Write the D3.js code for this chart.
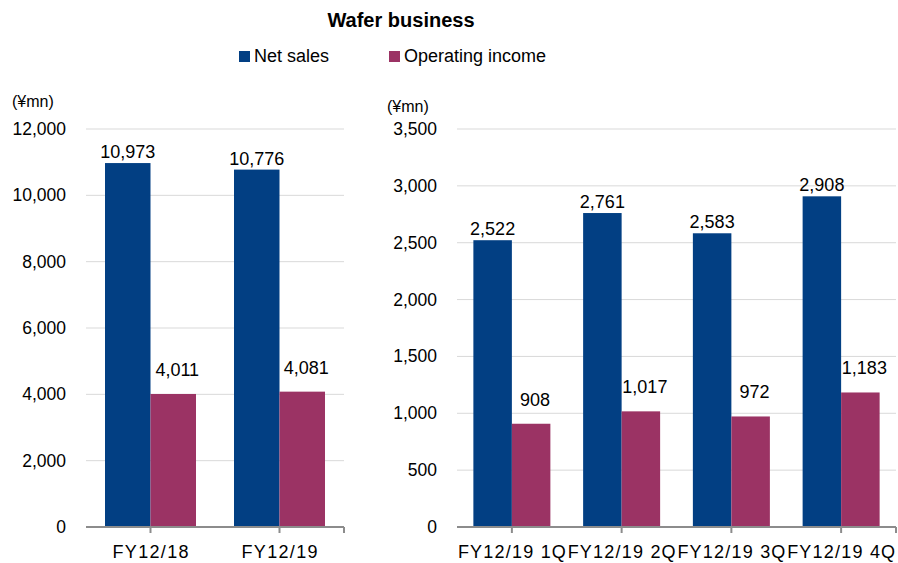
<!DOCTYPE html>
<html>
<head>
<meta charset="utf-8">
<script src="https://cdn.jsdelivr.net/npm/d3@7"></script>
<style>
  body { margin: 0; background: #fff; }
  text { font-family: "Liberation Sans", Arial, sans-serif; fill: #000; }
</style>
</head>
<body>
<div id="wrapper"></div>
<script>
// annual figures (left panel)
var annualCats = ['FY12/18', 'FY12/19'];
var annualSales = [10973, 10776];
var annualIncome = [4011, 4081];
var annualTicks = [0, 2000, 4000, 6000, 8000, 10000, 12000];

// quarterly figures (right panel)
var quarterCats = ['FY12/19 1Q', 'FY12/19 2Q', 'FY12/19 3Q', 'FY12/19 4Q'];
var quarterSales = [2522, 2761, 2583, 2908];
var quarterIncome = [908, 1017, 972, 1183];
var quarterTicks = [0, 500, 1000, 1500, 2000, 2500, 3000, 3500];

var seriesNames = ['Net sales', 'Operating income'];
var colors = ['#023f83', '#9b3364'];

var svg = d3.select('#wrapper').append('svg')
  .attr('width', 898).attr('height', 563);

// title + legend
svg.append('text').attr('x', 401).attr('y', 27)
  .attr('text-anchor', 'middle').style('font-size', '20px').style('font-weight', 'bold')
  .text('Wafer business');

var legX = [239, 389];
seriesNames.forEach(function (n, i) {
  svg.append('rect').attr('x', legX[i]).attr('y', 51).attr('width', 11).attr('height', 11).attr('fill', colors[i]);
  svg.append('text').attr('x', legX[i] + 15).attr('y', 62).style('font-size', '18px').text(n);
});

var fmt = d3.format(',');
// label offset above bar: net sales sit close, operating income higher and slightly right
var labDy = [-5, -18], labDx = [0, 4];

function panel(cats, sales, income, ticks, yMax, x0, x1, barW, labX, catW) {
  var y = d3.scaleLinear().domain([0, yMax]).range([527, 129]);
  var x = d3.scaleBand().domain(cats).range([x0, x1]);
  var g = svg.append('g');

  // grid
  g.selectAll('.grid').data(ticks.slice(1)).enter().append('line')
    .attr('x1', x0).attr('x2', x1)
    .attr('y1', function (d) { return y(d); }).attr('y2', function (d) { return y(d); })
    .attr('stroke', '#d9d9d9').attr('stroke-width', 1);

  // y labels
  g.selectAll('.yl').data(ticks).enter().append('text')
    .attr('x', labX).attr('y', function (d) { return y(d) + 6; })
    .attr('text-anchor', 'end').style('font-size', '17.5px')
    .text(function (d) { return fmt(d); });

  var rows = cats.map(function (c, i) { return { c: c, v: [sales[i], income[i]] }; });

  rows.forEach(function (r) {
    var cx = x(r.c) + x.bandwidth() / 2;
    r.v.forEach(function (v, k) {
      var bx = k === 0 ? cx - barW : cx;
      g.append('rect').attr('x', bx).attr('y', y(v))
        .attr('width', barW).attr('height', y(0) - y(v)).attr('fill', colors[k]);
      g.append('text').attr('x', bx + barW / 2 + labDx[k]).attr('y', y(v) + labDy[k])
        .attr('text-anchor', 'middle').style('font-size', '18px').text(fmt(v));
    });
    g.append('text').attr('x', cx).attr('y', 558)
      .attr('text-anchor', 'middle').style('font-size', '18px')
      .attr('textLength', catW).attr('lengthAdjust', 'spacing').text(r.c);
  });

  // axis line + ticks
  g.append('line').attr('x1', x0).attr('x2', x1).attr('y1', 527).attr('y2', 527)
    .attr('stroke', '#8c8c8c').attr('stroke-width', 2);
  var tickX = cats.map(function (c) { return x(c) + x.bandwidth() / 2; }).concat([x1]);
  g.selectAll('.tk').data(tickX).enter().append('line')
    .attr('x1', function (d) { return d; }).attr('x2', function (d) { return d; })
    .attr('y1', 527).attr('y2', 533).attr('stroke', '#8c8c8c').attr('stroke-width', 2);
  return g;
}

panel(annualCats, annualSales, annualIncome, annualTicks, 12000, 86, 344, 45.5, 66, 76);
panel(quarterCats, quarterSales, quarterIncome, quarterTicks, 3500, 457, 896, 38.5, 437, 108);

svg.append('text').attr('x', 12).attr('y', 107).style('font-size', '16px').text('(¥mn)');
svg.append('text').attr('x', 387).attr('y', 112).style('font-size', '16px').text('(¥mn)');
</script>
</body>
</html>
